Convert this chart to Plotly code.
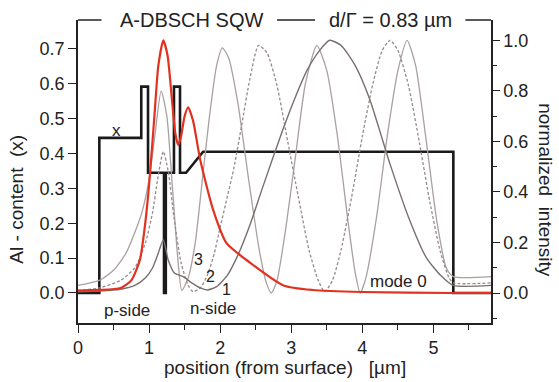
import plotly.graph_objects as go

# ---------------- data ----------------
# Al-content profile (left axis)
al_x = [0, 0.30, 0.30, 0.89, 0.89, 0.985, 0.985, 1.21, 1.21, 1.235, 1.235, 1.35, 1.35, 1.435, 1.435, 1.52, 1.76, 5.28, 5.28, 5.81]
al_y = [0, 0.0, 0.445, 0.445, 0.592, 0.592, 0.345, 0.345, 0.0, 0.0, 0.345, 0.345, 0.592, 0.592, 0.345, 0.345, 0.405, 0.405, 0.0, 0.0]

# mode 0 (red), normalized intensity (right axis)
m0_x = [0, 0.3, 0.6, 0.75, 0.87, 0.93, 0.99, 1.04, 1.08, 1.13, 1.2, 1.26, 1.32, 1.37, 1.41, 1.45, 1.5, 1.55, 1.62, 1.72, 1.9, 2.09, 2.42, 2.89, 3.3, 4.0, 5.28, 5.81]
m0_y = [0.01, 0.012, 0.02, 0.05, 0.13, 0.24, 0.395, 0.57, 0.72, 0.9, 1.0, 0.94, 0.77, 0.63, 0.585, 0.62, 0.7, 0.735, 0.68, 0.526, 0.33, 0.197, 0.12, 0.03, 0.012, 0.004, 0.0, 0.0]

# mode 1 (dark solid)
m1_x = [0, 0.3, 0.6, 0.8, 0.95, 1.05, 1.12, 1.2, 1.27, 1.36, 1.48, 1.6, 1.72, 1.82, 1.95, 2.1, 2.25, 2.42, 2.6, 2.88, 3.05, 3.22, 3.4, 3.54, 3.7, 3.9, 4.1, 4.39, 4.65, 4.9, 5.1, 5.28, 5.81]
m1_y = [0.005, 0.008, 0.015, 0.03, 0.06, 0.1, 0.15, 0.21, 0.13, 0.078, 0.065, 0.04, 0.02, 0.012, 0.025, 0.07, 0.15, 0.27, 0.42, 0.645, 0.77, 0.88, 0.96, 1.0, 0.98, 0.9, 0.77, 0.51, 0.3, 0.14, 0.07, 0.03, 0.03]

# mode 2 (dashed)
m2_x = [0, 0.3, 0.6, 0.8, 0.95, 1.05, 1.12, 1.2, 1.27, 1.35, 1.45, 1.55, 1.62, 1.72, 1.82, 1.92, 2.0, 2.1, 2.19, 2.3, 2.42, 2.54, 2.66, 2.8, 2.95, 3.1, 3.25, 3.38, 3.47, 3.58, 3.7, 3.85, 4.0, 4.15, 4.28, 4.39, 4.5, 4.65, 4.8, 4.95, 5.1, 5.22, 5.28, 5.81]
m2_y = [0.01, 0.02, 0.05, 0.1, 0.2, 0.32, 0.45, 0.56, 0.48, 0.3, 0.12, 0.03, 0.005, 0.02, 0.07, 0.16, 0.26, 0.38, 0.49, 0.66, 0.85, 0.98, 0.95, 0.82, 0.6, 0.38, 0.17, 0.05, 0.005, 0.05, 0.17, 0.38, 0.62, 0.83, 0.96, 1.0, 0.96, 0.82, 0.6, 0.36, 0.16, 0.06, 0.04, 0.04]

# mode 3 (light solid)
m3_x = [0, 0.3, 0.5, 0.68, 0.8, 0.9, 1.0, 1.08, 1.17, 1.25, 1.32, 1.4, 1.46, 1.55, 1.65, 1.75, 1.85, 1.95, 2.03, 2.12, 2.25, 2.4, 2.55, 2.65, 2.72, 2.8, 2.92, 3.05, 3.2, 3.36, 3.5, 3.65, 3.8, 3.9, 3.97, 4.05, 4.2, 4.35, 4.5, 4.63, 4.75, 4.9, 5.05, 5.18, 5.28, 5.81]
m3_y = [0.03, 0.05, 0.09, 0.16, 0.24, 0.32, 0.45, 0.62, 0.8, 0.7, 0.45, 0.15, 0.01, 0.06, 0.2, 0.45, 0.7, 0.9, 0.97, 0.93, 0.75, 0.45, 0.17, 0.04, 0.0, 0.05, 0.25, 0.52, 0.83, 0.98, 0.88, 0.62, 0.28, 0.08, 0.0, 0.06, 0.3, 0.62, 0.88, 1.0, 0.9, 0.6, 0.28, 0.1, 0.065, 0.065]

left_ticks = [0.0, 0.1, 0.2, 0.3, 0.4, 0.5, 0.6, 0.7]
right_ticks = [0.0, 0.2, 0.4, 0.6, 0.8, 1.0]
x_ticks = [0, 1, 2, 3, 4, 5]

FONT = "Liberation Sans, Arial, sans-serif"
TXT = "#222222"

fig = go.Figure()

# modes (right axis)
fig.add_trace(go.Scatter(x=m3_x, y=m3_y, yaxis="y2", mode="lines",
                         line=dict(color="#aaa0a0", width=1.3, shape="spline", smoothing=0.6)))
fig.add_trace(go.Scatter(x=m2_x, y=m2_y, yaxis="y2", mode="lines",
                         line=dict(color="#968b8b", width=1.3, dash="3px,2px", shape="spline", smoothing=0.6)))
fig.add_trace(go.Scatter(x=m1_x, y=m1_y, yaxis="y2", mode="lines",
                         line=dict(color="#7a6f6f", width=1.4, shape="spline", smoothing=0.6)))
fig.add_trace(go.Scatter(x=m0_x, y=m0_y, yaxis="y2", mode="lines",
                         line=dict(color="#e2321f", width=2.2, shape="spline", smoothing=0.6)))
# Al profile (left axis)
fig.add_trace(go.Scatter(x=al_x, y=al_y, yaxis="y", mode="lines",
                         line=dict(color="#1a1a1a", width=2.6)))

fig.update_layout(
    width=559, height=382,
    margin=dict(l=78, r=68, t=20, b=59),
    paper_bgcolor="white", plot_bgcolor="white",
    showlegend=False,
    font=dict(family=FONT, size=18, color=TXT),
    xaxis=dict(range=[0, 5.81], tickvals=x_ticks, ticks="outside", ticklen=8, tickwidth=1.2,
               tickcolor="#222", showline=True, linecolor="#222", linewidth=1.5,
               showgrid=False, zeroline=False, mirror=False,
               minor=dict(dtick=0.5, tick0=0, ticks="outside", ticklen=5, tickcolor="#222", showgrid=False),
               tickfont=dict(size=18)),
    yaxis=dict(range=[-0.0861, 0.7831], tickvals=left_ticks, tickformat=".1f", ticks="outside",
               ticklen=8, tickwidth=1.2, tickcolor="#222", showline=True, linecolor="#222",
               linewidth=1.5, showgrid=False, zeroline=False, tickfont=dict(size=18)),
    yaxis2=dict(range=[-0.1187, 1.0803], tickvals=right_ticks, tickformat=".1f", ticks="outside",
                ticklen=7, tickwidth=1.2, tickcolor="#222", showline=True, linecolor="#222",
                linewidth=1.5, showgrid=False, zeroline=False, overlaying="y", side="right",
                anchor="x",
                minor=dict(dtick=0.1, tick0=0, ticks="outside", ticklen=4, tickcolor="#222", showgrid=False),
                tickfont=dict(size=18)),
)

# broken top frame line
for x0, x1 in [(0.0, 0.057), (0.482, 0.574), (0.938, 1.0)]:
    fig.add_shape(type="line", xref="paper", yref="paper", x0=x0, x1=x1, y0=1, y1=1,
                  line=dict(color="#222", width=1.5))

ann = [
    dict(text="A-DBSCH SQW", x=1.594, xref="x", y=1.0, yref="paper", font=dict(size=20)),
    dict(text="d/\u0393 = 0.83 \u00b5m", x=4.397, xref="x", y=1.0, yref="paper", font=dict(size=20)),
    dict(text="x", x=0.54, xref="x", y=0.467, yref="y", font=dict(size=17)),
    dict(text="p-side", x=0.69, xref="x", y=-0.05, yref="y", font=dict(size=17)),
    dict(text="n-side", x=1.90, xref="x", y=-0.045, yref="y", font=dict(size=17)),
    dict(text="mode 0", x=4.51, xref="x", y=0.032, yref="y", font=dict(size=17)),
    dict(text="3", x=1.69, xref="x", y=0.095, yref="y", font=dict(size=16)),
    dict(text="2", x=1.86, xref="x", y=0.047, yref="y", font=dict(size=16)),
    dict(text="1", x=2.09, xref="x", y=0.01, yref="y", font=dict(size=16)),
    dict(text="position (from surface)   [\u00b5m]", x=0.5, xref="paper", y=-0.148, yref="paper",
         font=dict(size=19)),
    dict(text="Al - content  (x)", x=-0.148, xref="paper", y=0.41, yref="paper", textangle=-90,
         font=dict(size=19)),
    dict(text="normalized  intensity", x=1.132, xref="paper", y=0.44, yref="paper", textangle=90,
         font=dict(size=19)),
]
for a in ann:
    a.setdefault("showarrow", False)
    a.setdefault("xanchor", "center")
    a.setdefault("yanchor", "middle")
    fig.add_annotation(**a)

fig.write_html("out.html")
